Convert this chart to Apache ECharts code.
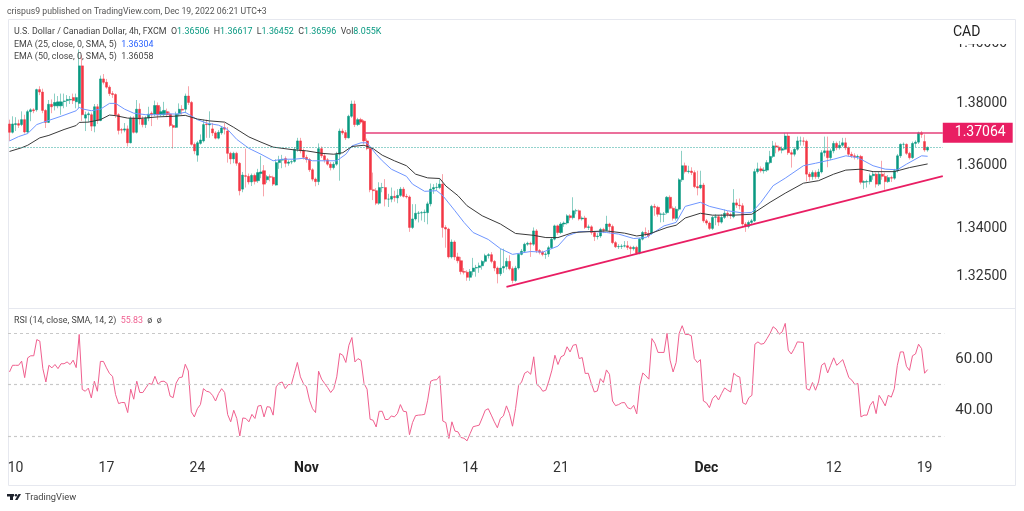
<!DOCTYPE html>
<html>
<head>
<meta charset="utf-8">
<title>USD/CAD 4h</title>
<script src="https://cdn.jsdelivr.net/npm/echarts@6/dist/echarts.min.js"></script>
<style>
  html, body { margin: 0; padding: 0; background: #fff; }
  #chart { width: 1024px; height: 511px; }
</style>
</head>
<body>
<div id="chart"></div>
<script>
// 4h candles
const opens = [
  1.3735,1.3708,1.3733,1.3736,1.3733,1.3749,1.3709,1.3775,1.3781,1.3781,
  1.3847,1.3839,1.3779,1.3740,1.3799,1.3794,1.3794,1.3794,1.3808,1.3811,
  1.3813,1.3821,1.3807,1.3802,1.3925,1.3754,1.3765,1.3765,1.3728,1.3791,
  1.3746,1.3882,1.3871,1.3855,1.3834,1.3831,1.3765,1.3717,1.3715,1.3719,
  1.3674,1.3754,1.3708,1.3783,1.3751,1.3733,1.3754,1.3770,1.3767,1.3795,
  1.3765,1.3765,1.3775,1.3767,1.3730,1.3724,1.3767,1.3783,1.3783,1.3826,
  1.3805,1.3669,1.3634,1.3672,1.3680,1.3735,1.3732,1.3719,1.3706,1.3689,
  1.3706,1.3723,1.3712,1.3640,1.3622,1.3640,1.3608,1.3525,1.3568,1.3566,
  1.3548,1.3569,1.3552,1.3575,1.3584,1.3555,1.3565,1.3563,1.3538,1.3610,
  1.3618,1.3623,1.3608,1.3612,1.3614,1.3653,1.3680,1.3648,1.3627,1.3620,
  1.3587,1.3557,1.3549,1.3655,1.3632,1.3619,1.3605,1.3594,1.3605,1.3637,
  1.3712,1.3707,1.3690,1.3760,1.3800,1.3733,1.3749,1.3744,1.3680,1.3655,
  1.3523,1.3520,1.3480,1.3530,1.3530,1.3493,1.3493,1.3502,1.3497,1.3505,
  1.3525,1.3502,1.3500,1.3403,1.3430,1.3448,1.3449,1.3450,1.3450,1.3478,
  1.3525,1.3530,1.3530,1.3541,1.3403,1.3398,1.3310,1.3357,1.3310,1.3298,
  1.3264,1.3262,1.3246,1.3264,1.3275,1.3277,1.3282,1.3296,1.3314,1.3317,
  1.3296,1.3275,1.3257,1.3275,1.3280,1.3296,1.3273,1.3236,1.3275,1.3318,
  1.3328,1.3350,1.3353,1.3350,1.3392,1.3330,1.3325,1.3318,1.3319,1.3339,
  1.3366,1.3408,1.3387,1.3414,1.3417,1.3440,1.3434,1.3456,1.3456,1.3430,
  1.3433,1.3403,1.3405,1.3387,1.3374,1.3376,1.3397,1.3394,1.3414,1.3406,
  1.3355,1.3342,1.3343,1.3344,1.3345,1.3340,1.3336,1.3340,1.3322,1.3366,
  1.3387,1.3384,1.3385,1.3470,1.3467,1.3445,1.3445,1.3450,1.3499,1.3464,
  1.3432,1.3461,1.3555,1.3600,1.3581,1.3583,1.3578,1.3533,1.3529,1.3538,
  1.3424,1.3417,1.3400,1.3435,1.3437,1.3420,1.3435,1.3448,1.3444,1.3437,
  1.3481,1.3474,1.3472,1.3414,1.3406,1.3419,1.3424,1.3581,1.3590,1.3584,
  1.3586,1.3610,1.3630,1.3664,1.3660,1.3650,1.3653,1.3696,1.3642,1.3637,
  1.3653,1.3680,1.3680,1.3679,1.3573,1.3565,1.3578,1.3565,1.3580,1.3642,
  1.3648,1.3626,1.3648,1.3672,1.3658,1.3666,1.3674,1.3658,1.3637,1.3632,
  1.3628,1.3630,1.3547,1.3549,1.3549,1.3568,1.3573,1.3541,1.3573,1.3566,
  1.3549,1.3562,1.3560,1.3584,1.3632,1.3669,1.3669,1.3640,1.3626,1.3672,
  1.3676,1.3706,1.3678,1.36506
];
const closes = [
  1.3708,1.3735,1.3736,1.3731,1.3749,1.3709,1.3775,1.3781,1.3778,1.3847,
  1.3839,1.3779,1.3740,1.3799,1.3791,1.3805,1.3807,1.3807,1.3810,1.3815,
  1.3815,1.3811,1.3821,1.3925,1.3765,1.3765,1.3768,1.3728,1.3791,1.3746,
  1.3882,1.3871,1.3855,1.3834,1.3831,1.3765,1.3714,1.3715,1.3719,1.3674,
  1.3754,1.3708,1.3783,1.3751,1.3733,1.3754,1.3767,1.3765,1.3795,1.3765,
  1.3775,1.3779,1.3765,1.3730,1.3724,1.3767,1.3783,1.3780,1.3826,1.3805,
  1.3669,1.3648,1.3674,1.3683,1.3733,1.3733,1.3735,1.3706,1.3689,1.3708,
  1.3722,1.3718,1.3640,1.3622,1.3640,1.3608,1.3520,1.3570,1.3566,1.3548,
  1.3569,1.3550,1.3578,1.3580,1.3541,1.3565,1.3563,1.3541,1.3610,1.3618,
  1.3620,1.3608,1.3612,1.3613,1.3653,1.3680,1.3648,1.3627,1.3620,1.3587,
  1.3557,1.3549,1.3655,1.3632,1.3619,1.3605,1.3594,1.3605,1.3637,1.3712,
  1.3706,1.3690,1.3760,1.3800,1.3733,1.3749,1.3741,1.3680,1.3655,1.3523,
  1.3520,1.3480,1.3530,1.3530,1.3493,1.3493,1.3502,1.3498,1.3505,1.3525,
  1.3502,1.3500,1.3403,1.3430,1.3448,1.3449,1.3450,1.3452,1.3478,1.3525,
  1.3530,1.3531,1.3541,1.3403,1.3398,1.3310,1.3357,1.3310,1.3298,1.3264,
  1.3262,1.3246,1.3264,1.3275,1.3277,1.3282,1.3296,1.3314,1.3317,1.3296,
  1.3275,1.3257,1.3275,1.3280,1.3296,1.3273,1.3236,1.3275,1.3318,1.3328,
  1.3350,1.3353,1.3350,1.3392,1.3330,1.3325,1.3318,1.3319,1.3339,1.3366,
  1.3408,1.3387,1.3414,1.3417,1.3440,1.3434,1.3456,1.3456,1.3430,1.3433,
  1.3403,1.3405,1.3387,1.3374,1.3376,1.3397,1.3394,1.3414,1.3406,1.3355,
  1.3342,1.3343,1.3344,1.3345,1.3340,1.3336,1.3340,1.3322,1.3366,1.3387,
  1.3384,1.3376,1.3470,1.3467,1.3445,1.3445,1.3445,1.3499,1.3464,1.3432,
  1.3461,1.3555,1.3600,1.3581,1.3583,1.3578,1.3533,1.3529,1.3538,1.3424,
  1.3417,1.3400,1.3435,1.3437,1.3420,1.3435,1.3448,1.3444,1.3440,1.3481,
  1.3474,1.3472,1.3414,1.3408,1.3419,1.3424,1.3581,1.3590,1.3584,1.3586,
  1.3610,1.3630,1.3664,1.3660,1.3650,1.3655,1.3696,1.3642,1.3637,1.3653,
  1.3680,1.3680,1.3679,1.3573,1.3565,1.3578,1.3565,1.3580,1.3642,1.3648,
  1.3626,1.3648,1.3672,1.3658,1.3666,1.3674,1.3658,1.3637,1.3632,1.3628,
  1.3630,1.3547,1.3549,1.3549,1.3568,1.3573,1.3541,1.3573,1.3566,1.3549,
  1.3562,1.3560,1.3584,1.3632,1.3669,1.3669,1.3640,1.3626,1.3672,1.3676,
  1.3706,1.3701,1.3651,1.36596
];
const lows = [
  1.3680,1.3704,1.3712,1.3722,1.3728,1.3704,1.3704,1.3744,1.3770,1.3775,
  1.3829,1.3770,1.3722,1.3738,1.3770,1.3779,1.3786,1.3765,1.3786,1.3791,
  1.3800,1.3800,1.3786,1.3786,1.3745,1.3712,1.3740,1.3712,1.3708,1.3735,
  1.3744,1.3864,1.3850,1.3826,1.3820,1.3755,1.3701,1.3704,1.3708,1.3662,
  1.3672,1.3704,1.3704,1.3733,1.3724,1.3722,1.3744,1.3728,1.3760,1.3749,
  1.3760,1.3760,1.3757,1.3725,1.3655,1.3722,1.3760,1.3765,1.3770,1.3797,
  1.3665,1.3637,1.3613,1.3668,1.3675,1.3690,1.3690,1.3696,1.3685,1.3685,
  1.3700,1.3701,1.3610,1.3605,1.3608,1.3600,1.3505,1.3515,1.3530,1.3540,
  1.3535,1.3540,1.3545,1.3560,1.3502,1.3545,1.3550,1.3535,1.3536,1.3590,
  1.3592,1.3595,1.3600,1.3605,1.3610,1.3645,1.3640,1.3620,1.3610,1.3580,
  1.3550,1.3534,1.3538,1.3625,1.3610,1.3600,1.3585,1.3588,1.3600,1.3552,
  1.3700,1.3683,1.3688,1.3755,1.3725,1.3728,1.3735,1.3670,1.3650,1.3515,
  1.3490,1.3474,1.3475,1.3515,1.3470,1.3468,1.3483,1.3485,1.3480,1.3500,
  1.3498,1.3495,1.3389,1.3398,1.3425,1.3419,1.3425,1.3420,1.3413,1.3470,
  1.3510,1.3520,1.3525,1.3371,1.3339,1.3305,1.3305,1.3300,1.3290,1.3255,
  1.3255,1.3235,1.3235,1.3252,1.3248,1.3260,1.3270,1.3290,1.3305,1.3290,
  1.3265,1.3227,1.3250,1.3260,1.3270,1.3268,1.3227,1.3232,1.3270,1.3315,
  1.3325,1.3345,1.3310,1.3345,1.3322,1.3318,1.3312,1.3304,1.3310,1.3335,
  1.3362,1.3380,1.3382,1.3405,1.3412,1.3425,1.3428,1.3445,1.3425,1.3425,
  1.3398,1.3395,1.3380,1.3360,1.3365,1.3370,1.3385,1.3390,1.3385,1.3350,
  1.3338,1.3335,1.3335,1.3340,1.3332,1.3318,1.3330,1.3318,1.3318,1.3362,
  1.3375,1.3370,1.3380,1.3440,1.3437,1.3419,1.3420,1.3445,1.3460,1.3425,
  1.3425,1.3455,1.3548,1.3575,1.3575,1.3570,1.3528,1.3505,1.3525,1.3418,
  1.3410,1.3395,1.3395,1.3410,1.3408,1.3415,1.3430,1.3435,1.3430,1.3432,
  1.3465,1.3460,1.3408,1.3389,1.3400,1.3410,1.3420,1.3575,1.3578,1.3575,
  1.3580,1.3605,1.3625,1.3640,1.3645,1.3640,1.3650,1.3635,1.3594,1.3630,
  1.3648,1.3665,1.3665,1.3550,1.3552,1.3555,1.3558,1.3558,1.3575,1.3630,
  1.3595,1.3618,1.3640,1.3650,1.3652,1.3660,1.3650,1.3630,1.3625,1.3620,
  1.3620,1.3540,1.3525,1.3530,1.3540,1.3555,1.3530,1.3535,1.3555,1.3523,
  1.3545,1.3548,1.3555,1.3578,1.3625,1.3655,1.3635,1.3620,1.3622,1.3660,
  1.3670,1.3690,1.3645,1.36452
];
const highs = [
  1.3749,1.3760,1.3757,1.3749,1.3776,1.3765,1.3781,1.3786,1.3786,1.3850,
  1.3858,1.3850,1.3783,1.3813,1.3815,1.3834,1.3826,1.3834,1.3834,1.3829,
  1.3826,1.3834,1.3834,1.3979,1.3960,1.3775,1.3775,1.3772,1.3800,1.3800,
  1.3893,1.3898,1.3882,1.3861,1.3842,1.3835,1.3770,1.3722,1.3738,1.3730,
  1.3760,1.3760,1.3813,1.3802,1.3760,1.3760,1.3791,1.3776,1.3811,1.3805,
  1.3791,1.3807,1.3785,1.3775,1.3735,1.3775,1.3802,1.3796,1.3834,1.3858,
  1.3810,1.3675,1.3680,1.3701,1.3749,1.3749,1.3776,1.3738,1.3712,1.3715,
  1.3728,1.3738,1.3725,1.3645,1.3645,1.3645,1.3612,1.3580,1.3655,1.3575,
  1.3575,1.3575,1.3590,1.3632,1.3602,1.3570,1.3572,1.3568,1.3621,1.3632,
  1.3635,1.3630,1.3618,1.3618,1.3660,1.3690,1.3690,1.3655,1.3635,1.3625,
  1.3592,1.3562,1.3672,1.3662,1.3640,1.3625,1.3612,1.3612,1.3645,1.3720,
  1.3720,1.3715,1.3765,1.3811,1.3811,1.3755,1.3755,1.3748,1.3688,1.3660,
  1.3578,1.3528,1.3547,1.3545,1.3557,1.3510,1.3530,1.3520,1.3525,1.3532,
  1.3532,1.3510,1.3505,1.3477,1.3477,1.3455,1.3455,1.3460,1.3485,1.3543,
  1.3541,1.3545,1.3557,1.3573,1.3410,1.3402,1.3365,1.3362,1.3323,1.3310,
  1.3275,1.3268,1.3272,1.3307,1.3285,1.3292,1.3300,1.3320,1.3322,1.3325,
  1.3300,1.3280,1.3336,1.3336,1.3307,1.3315,1.3280,1.3282,1.3322,1.3335,
  1.3355,1.3358,1.3358,1.3403,1.3398,1.3335,1.3330,1.3325,1.3345,1.3372,
  1.3412,1.3412,1.3420,1.3422,1.3445,1.3445,1.3499,1.3462,1.3460,1.3438,
  1.3440,1.3412,1.3410,1.3392,1.3385,1.3402,1.3402,1.3440,1.3418,1.3412,
  1.3360,1.3350,1.3350,1.3360,1.3360,1.3345,1.3345,1.3345,1.3370,1.3392,
  1.3403,1.3395,1.3475,1.3478,1.3472,1.3450,1.3452,1.3503,1.3505,1.3470,
  1.3470,1.3560,1.3648,1.3610,1.3600,1.3595,1.3585,1.3584,1.3584,1.3545,
  1.3430,1.3422,1.3440,1.3445,1.3442,1.3445,1.3460,1.3455,1.3450,1.3525,
  1.3493,1.3495,1.3480,1.3420,1.3425,1.3430,1.3590,1.3610,1.3598,1.3595,
  1.3618,1.3648,1.3680,1.3675,1.3665,1.3662,1.3706,1.3706,1.3650,1.3660,
  1.3694,1.3694,1.3692,1.3684,1.3580,1.3585,1.3585,1.3590,1.3650,1.3694,
  1.3694,1.3655,1.3680,1.3678,1.3680,1.3690,1.3690,1.3662,1.3645,1.3640,
  1.3636,1.3635,1.3553,1.3555,1.3575,1.3580,1.3578,1.3580,1.3616,1.3578,
  1.3570,1.3568,1.3590,1.3638,1.3672,1.3675,1.3672,1.3645,1.3678,1.3682,
  1.3710,1.3712,1.3701,1.36617
];
// RSI(14), one value per bar
const rsi = [
  54.9,57.5,57.5,57.5,59.1,52.7,60.4,61.2,61.2,67.5,
  66.9,56.2,51.0,57.5,56.5,57.8,56.2,58.1,58.1,58.8,
  57.8,59.5,56.6,69.5,48.1,47.4,48.6,44.8,51.3,47.4,
  59.0,59.0,56.5,54.3,53.2,46.1,42.6,43.0,43.0,39.1,
  48.2,44.3,51.3,46.9,46.9,48.7,50.4,50.1,53.2,50.1,
  51.2,51.3,50.4,45.5,44.9,50.6,52.7,52.9,57.9,55.3,
  39.4,37.4,40.6,42.2,48.4,47.4,47.1,45.8,43.6,46.5,
  48.4,46.9,38.3,35.5,40.0,36.8,30.0,37.0,36.8,35.5,
  38.4,36.8,41.6,41.9,37.4,41.4,41.2,38.1,49.1,50.6,
  51.0,48.4,50.0,50.0,54.3,58.6,53.0,50.4,49.1,43.9,
  40.6,39.1,55.2,52.1,50.4,48.8,46.9,48.4,53.0,62.1,
  61.4,58.6,65.3,68.3,58.8,60.1,59.4,50.4,48.2,36.5,
  36.1,33.5,39.6,39.6,36.4,36.4,37.8,37.4,38.7,42.2,
  39.6,39.4,30.5,35.2,37.9,38.1,38.2,38.4,43.9,51.3,
  51.8,51.9,53.4,35.8,35.2,29.0,35.5,31.9,31.6,29.4,
  29.1,28.1,30.9,33.6,33.9,34.2,37.0,40.0,40.6,38.1,
  35.5,33.2,36.8,37.8,41.7,38.7,33.8,40.6,49.7,51.0,
  54.4,55.1,54.0,60.8,50.0,49.1,47.4,47.8,51.4,55.6,
  61.4,57.8,60.8,61.4,64.7,62.7,65.3,65.6,60.1,60.5,
  54.3,54.4,50.4,47.1,47.5,52.3,50.8,55.7,54.0,43.6,
  41.8,42.2,42.9,43.0,41.0,40.5,41.9,38.6,49.7,54.5,
  53.4,52.1,67.9,66.0,62.5,62.5,62.5,69.9,59.5,54.9,
  58.6,69.9,72.9,69.5,69.5,69.0,60.1,58.6,59.7,43.6,
  42.9,41.0,44.5,45.8,44.0,46.5,48.7,47.8,47.1,54.4,
  53.4,52.9,42.9,42.3,44.9,45.8,65.7,66.6,65.7,66.0,
  67.9,69.9,72.5,71.6,69.6,70.5,73.8,63.4,61.9,64.0,
  66.6,66.5,66.4,48.4,47.8,50.8,47.8,51.0,57.5,58.4,
  54.5,57.5,60.4,57.5,58.6,59.7,56.2,52.7,51.7,50.0,
  50.4,37.4,38.1,38.1,41.9,43.5,38.7,45.8,43.9,41.7,
  45.8,45.1,48.4,57.5,62.7,62.7,57.1,55.5,61.2,61.9,
  65.7,64.0,54.4,55.83
];
// EMAs sampled along the lines: [bar, value]
const ema25 = [
  [0,1.3680],[3,1.3694],[6,1.3704],[9,1.3733],[11,1.3740],[17,1.3760],[22,1.3778],[23,1.3789],[24,1.3784],[27,1.3778],
  [30,1.3783],[33,1.3802],[35,1.3802],[38,1.3783],[41,1.3770],[45,1.3765],[49,1.3765],[52,1.3768],[55,1.3767],[58,1.3773],
  [62,1.3749],[65,1.3738],[69,1.3731],[72,1.3717],[75,1.3685],[79,1.3656],[83,1.3637],[87,1.3616],[90,1.3621],[94,1.3621],
  [97,1.3624],[100,1.3616],[105,1.3616],[108,1.3616],[111,1.3637],[113,1.3664],[116,1.3674],[118,1.3674],[121,1.3637],[123,1.3616],
  [126,1.3589],[131,1.3566],[133,1.3541],[137,1.3518],[141,1.3520],[143,1.3504],[147,1.3456],[150,1.3419],[153,1.3387],[158,1.3365],
  [162,1.3336],[166,1.3318],[168,1.3321],[172,1.3327],[176,1.3325],[181,1.3344],[184,1.3376],[188,1.3390],[193,1.3390],[197,1.3387],
  [201,1.3382],[206,1.3368],[210,1.3371],[216,1.3408],[220,1.3419],[223,1.3470],[228,1.3483],[231,1.3470],[237,1.3456],[242,1.3449],
  [245,1.3451],[248,1.3483],[252,1.3536],[256,1.3560],[262,1.3600],[266,1.3608],[272,1.3621],[276,1.3632],[280,1.3626],[285,1.3600],
  [289,1.3589],[293,1.3587],[296,1.3605],[301,1.3632],[303,1.36304]
];
const ema50 = [
  [0,1.3646],[4,1.3658],[6,1.3666],[10,1.3690],[13,1.3698],[18,1.3717],[22,1.3730],[23,1.3740],[26,1.3741],[30,1.3749],
  [33,1.3764],[35,1.3762],[39,1.3754],[43,1.3753],[49,1.3758],[54,1.3760],[58,1.3763],[62,1.3751],[66,1.3745],[71,1.3741],
  [74,1.3724],[79,1.3693],[83,1.3676],[87,1.3660],[94,1.3651],[98,1.3648],[103,1.3640],[107,1.3637],[110,1.3642],[113,1.3662],
  [117,1.3666],[120,1.3655],[123,1.3634],[127,1.3616],[131,1.3600],[134,1.3573],[138,1.3561],[142,1.3559],[144,1.3535],[148,1.3504],
  [151,1.3472],[156,1.3440],[162,1.3414],[167,1.3384],[173,1.3378],[177,1.3371],[181,1.3371],[186,1.3387],[192,1.3390],[197,1.3392],
  [203,1.3385],[207,1.3376],[211,1.3382],[217,1.3403],[220,1.3410],[223,1.3433],[228,1.3448],[232,1.3442],[239,1.3442],[245,1.3445],
  [251,1.3483],[256,1.3512],[262,1.3544],[267,1.3552],[272,1.3573],[276,1.3586],[281,1.3589],[285,1.3581],[292,1.3581],[297,1.3594],
  [303,1.36058]
];
const resistance = 1.37064;
const resistanceStart = 117;
const trendStart = [164, 1.32157];
const trendEnd = [308, 1.3567];
const lastClose = 1.36596;
const priceTicks = [1.325, 1.34, 1.36, 1.38, 1.40];
const rsiTicks = [40, 60];
const rsiBands = [70, 50, 30];
const dateBars = [2, 32, 62, 98, 152, 182, 230, 272, 302];
const dateLabels = ['10', '17', '24', 'Nov', '14', '21', 'Dec', '12', '19'];
const emptyBars = 5;

const chart = echarts.init(document.getElementById('chart'));

const UP = '#089981';
const DOWN = '#f23645';
const UP_WICK = '#8ccfc4';
const DOWN_WICK = '#f8a5ab';
const PINK = '#e91e63';
const FONT = 'Roboto, sans-serif';

const categories = [];
for (let i = 0; i < opens.length + emptyBars; i++) categories.push(String(i));
const lastBar = categories.length - 1;

const candles = opens.map((o, i) => [o, closes[i], lows[i], highs[i]]);
// bodies go over the pale wicks, so they carry no high/low of their own
const bodies = opens.map((o, i) => [o, closes[i], Math.min(o, closes[i]), Math.max(o, closes[i])]);

function dateLabel(value) {
  const k = dateBars.indexOf(Number(value));
  if (k < 0) return '';
  const text = dateLabels[k];
  return isNaN(text) ? '{b|' + text + '}' : text;
}

const option = {
  animation: false,
  backgroundColor: '#fff',
  textStyle: { fontFamily: FONT },
  title: [
    {
      text: 'crispus9 published on TradingView.com, Dec 19, 2022 06:21 UTC+3',
      left: 2, top: 2,
      textStyle: { fontSize: 8.7, fontWeight: 'normal', color: '#555', fontFamily: FONT }
    },
    {
      text: 'U.S. Dollar / Canadian Dollar, 4h, FXCM  O{g|1.36506}  H{g|1.36617}  L{g|1.36452}  C{g|1.36596}  Vol{g|8.055K}',
      left: 9, top: 22,
      textStyle: {
        fontSize: 8.9, fontWeight: 'normal', color: '#444', fontFamily: FONT,
        rich: { g: { color: UP, fontSize: 8.9, fontFamily: FONT } }
      }
    },
    {
      text: 'EMA (25, close, 0, SMA, 5)  {b|1.36304}',
      left: 9, top: 35,
      textStyle: {
        fontSize: 8.9, fontWeight: 'normal', color: '#444', fontFamily: FONT,
        rich: { b: { color: '#2962ff', fontSize: 8.9, fontFamily: FONT } }
      }
    },
    {
      text: 'EMA (50, close, 0, SMA, 5)  1.36058',
      left: 9, top: 47,
      textStyle: { fontSize: 8.9, fontWeight: 'normal', color: '#444', fontFamily: FONT }
    },
    {
      text: 'RSI (14, close, SMA, 14, 2)  {p|55.83}  ø  ø',
      left: 9, top: 311,
      textStyle: {
        fontSize: 8.9, fontWeight: 'normal', color: '#444', fontFamily: FONT,
        rich: { p: { color: '#f06292', fontSize: 8.9, fontFamily: FONT } }
      }
    },
    {
      // white plate hides the top half of the 1.40000 tick, as on the site
      text: 'CAD',
      left: 945, top: 20,
      backgroundColor: '#fff',
      padding: [5, 34, 5, 8],
      textStyle: { fontSize: 14, fontWeight: 'normal', color: '#222', fontFamily: FONT }
    },
    {
      text: 'TradingView',
      left: 20, top: 488,
      textStyle: { fontSize: 9.3, fontWeight: 'normal', color: '#444', fontFamily: FONT }
    }
  ],
  graphic: [
    {
      type: 'rect', silent: true, z: -1,
      shape: { x: 8.5, y: 19.5, width: 1007, height: 466 },
      style: { fill: 'none', stroke: '#e6e8ef', lineWidth: 1 }
    },
    {
      type: 'line', silent: true, z: -1,
      shape: { x1: 8, y1: 308.5, x2: 1016, y2: 308.5 },
      style: { stroke: '#e6e8ef', lineWidth: 1 }
    },
    // small logo mark
    {
      type: 'rect', silent: true,
      shape: { x: 7, y: 494, width: 7, height: 2.5 },
      style: { fill: '#1e222d' }
    },
    {
      type: 'rect', silent: true,
      shape: { x: 10, y: 494, width: 3, height: 6 },
      style: { fill: '#1e222d' }
    },
    {
      type: 'circle', silent: true,
      shape: { cx: 16, cy: 495.2, r: 1.3 },
      style: { fill: '#1e222d' }
    },
    {
      type: 'polygon', silent: true,
      shape: { points: [[15, 500], [18.5, 494], [21, 494], [17.5, 500]] },
      style: { fill: '#1e222d' }
    }
  ],
  grid: [
    { left: 8, width: 936.3, top: 19, height: 288 },
    { left: 8, width: 936.3, top: 309, height: 147 }
  ],
  xAxis: [
    {
      type: 'category', gridIndex: 0, data: categories, boundaryGap: true,
      axisLine: { show: false }, axisTick: { show: false }, axisLabel: { show: false }
    },
    {
      type: 'category', gridIndex: 1, data: categories, boundaryGap: true,
      axisLine: { show: false }, axisTick: { show: false },
      axisLabel: {
        interval: (i) => dateBars.indexOf(i) >= 0,
        formatter: dateLabel,
        margin: 5,
        fontSize: 14,
        color: '#333',
        rich: { b: { fontSize: 14, fontWeight: 'bold', color: '#222' } }
      }
    }
  ],
  yAxis: [
    {
      type: 'log', gridIndex: 0, position: 'right',
      min: 1.31533, max: 1.40801,
      axisLine: { show: false }, axisTick: { show: false }, splitLine: { show: false },
      axisLabel: {
        customValues: priceTicks,
        formatter: (v) => Number(v).toFixed(5),
        fontSize: 14, color: '#333', margin: 12, padding: [3, 0, 0, 0]
      }
    },
    {
      type: 'value', gridIndex: 1, position: 'right',
      min: 22.2, max: 79.4,
      axisLine: { show: false }, axisTick: { show: false }, splitLine: { show: false },
      axisLabel: {
        customValues: rsiTicks,
        formatter: (v) => Number(v).toFixed(2),
        fontSize: 15, color: '#333', margin: 11
      }
    }
  ],
  series: [
    {
      name: 'USDCAD wicks',
      type: 'candlestick',
      xAxisIndex: 0, yAxisIndex: 0,
      data: candles,
      barWidth: 1,
      itemStyle: { color: UP_WICK, color0: DOWN_WICK, borderColor: UP_WICK, borderColor0: DOWN_WICK, borderWidth: 1 }
    },
    {
      name: 'USDCAD',
      type: 'candlestick',
      xAxisIndex: 0, yAxisIndex: 0,
      data: bodies,
      barWidth: 2.6,
      itemStyle: { color: UP, color0: DOWN, borderColor: UP, borderColor0: DOWN, borderWidth: 0.5 },
      markLine: {
        silent: true, symbol: 'none', animation: false,
        data: [
          [
            { coord: [0, lastClose], lineStyle: { color: '#26a69a', width: 1, type: [1, 2] }, label: { show: false } },
            { coord: [lastBar, lastClose] }
          ],
          [
            { coord: [resistanceStart, resistance], lineStyle: { color: '#e5407a', width: 1.5, type: 'solid' },
              label: {
                show: true, position: 'end', distance: 0, formatter: '1.37064',
                backgroundColor: PINK, color: '#fff', fontSize: 14, padding: [3, 7, 3, 12], fontFamily: FONT
              } },
            { coord: [lastBar, resistance] }
          ],
          [
            { coord: trendStart, lineStyle: { color: PINK, width: 1.8, type: 'solid' }, label: { show: false } },
            { coord: trendEnd }
          ]
        ]
      }
    },
    {
      name: 'EMA 25', type: 'line', xAxisIndex: 0, yAxisIndex: 0,
      data: ema25.map(p => [String(p[0]), p[1]]),
      showSymbol: false, lineStyle: { color: '#6f96ff', width: 1 }, z: 3
    },
    {
      name: 'EMA 50', type: 'line', xAxisIndex: 0, yAxisIndex: 0,
      data: ema50.map(p => [String(p[0]), p[1]]),
      showSymbol: false, lineStyle: { color: '#3a3a3a', width: 1 }, z: 3
    },
    {
      name: 'RSI', type: 'line', xAxisIndex: 1, yAxisIndex: 1,
      data: rsi,
      showSymbol: false, lineStyle: { color: '#f0608f', width: 1 },
      markLine: {
        silent: true, symbol: 'none', animation: false,
        label: { show: false },
        lineStyle: { color: '#c8c8c8', type: [3, 3], width: 1.2 },
        data: rsiBands.map(v => ({ yAxis: v }))
      }
    }
  ]
};

chart.setOption(option);
</script>
</body>
</html>
